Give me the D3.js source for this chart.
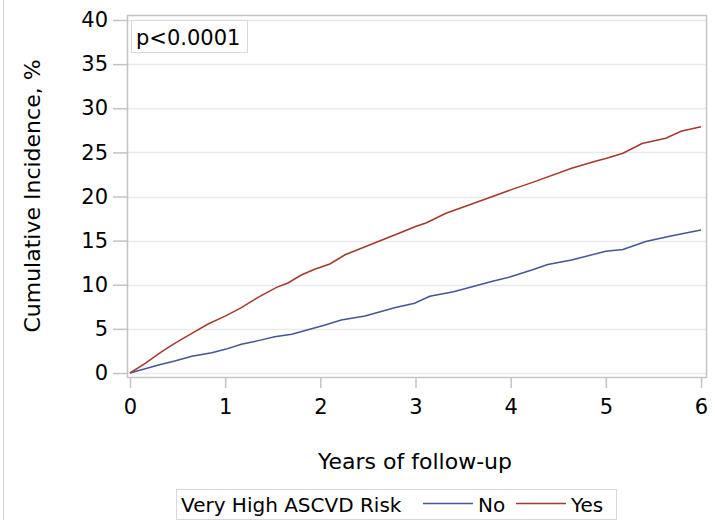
<!DOCTYPE html>
<html>
<head>
<meta charset="utf-8">
<script src="https://cdn.jsdelivr.net/npm/d3@7"></script>
<style>
  body { margin: 0; background: #fff; }
  svg { display: block; font-family: "DejaVu Sans", sans-serif; }
</style>
</head>
<body>
<svg id="chart" width="715" height="520"></svg>
<script>
// Cumulative incidence (%)
const yearsNo = [0, 0.30, 0.47, 0.65, 0.86, 1.0, 1.17, 1.35, 1.52, 1.70, 1.87, 2.05, 2.22, 2.47, 2.78, 2.99, 3.15, 3.4, 3.81, 4.0, 4.23, 4.39, 4.64, 5.0, 5.18, 5.42, 5.67, 6.0];
const valsNo = [0, 0.9, 1.36, 1.9, 2.3, 2.68, 3.25, 3.67, 4.1, 4.4, 4.9, 5.45, 6.0, 6.45, 7.4, 7.9, 8.7, 9.2, 10.4, 10.9, 11.7, 12.3, 12.8, 13.8, 14.0, 14.9, 15.5, 16.2];
const yearsYes = [0, 0.16, 0.33, 0.47, 0.65, 0.82, 1.0, 1.17, 1.35, 1.54, 1.66, 1.80, 1.94, 2.10, 2.26, 2.47, 2.82, 3.0, 3.11, 3.32, 3.81, 4.0, 4.23, 4.64, 4.89, 5.0, 5.18, 5.38, 5.63, 5.79, 6.0];
const valsYes = [0, 1.1, 2.4, 3.35, 4.5, 5.55, 6.45, 7.4, 8.6, 9.7, 10.2, 11.1, 11.75, 12.35, 13.4, 14.3, 15.8, 16.6, 17.0, 18.1, 20.0, 20.75, 21.6, 23.2, 24.0, 24.3, 24.9, 26.0, 26.6, 27.4, 27.9];
const xTicks = [0, 1, 2, 3, 4, 5, 6];
const yTicks = [0, 5, 10, 15, 20, 25, 30, 35, 40];
const groups = ["No", "Yes"];
const colors = {No: "#445694", Yes: "#A23A2E"};

const svg = d3.select("#chart");
const frame = {left: 127, right: 706, top: 15, bottom: 377};
const x = d3.scaleLinear().domain([0, 6]).range([130, 701]);
const y = d3.scaleLinear().domain([0, 40]).range([373, 20]);

// outer left border of the figure
svg.append("line")
    .attr("x1", 3.5).attr("x2", 3.5).attr("y1", 0).attr("y2", 520)
    .attr("stroke", "#d4d4d4").attr("stroke-width", 1);

// gridlines
svg.append("g").selectAll("line")
    .data(yTicks)
    .join("line")
    .attr("x1", frame.left).attr("x2", frame.right)
    .attr("y1", d => Math.round(y(d)) + 0.5).attr("y2", d => Math.round(y(d)) + 0.5)
    .attr("stroke", "#e9e9e9").attr("stroke-width", 1.5);

// frame
svg.append("rect")
    .attr("x", frame.left + 0.5).attr("y", frame.top + 0.5)
    .attr("width", frame.right - frame.left).attr("height", frame.bottom - frame.top)
    .attr("fill", "none").attr("stroke", "#c4c4c4").attr("stroke-width", 1.5);

// axes
const xAxis = d3.axisBottom(x).tickValues(xTicks).tickSize(11).tickPadding(11).tickFormat(d3.format("d"));
const yAxis = d3.axisLeft(y).tickValues(yTicks).tickSize(14).tickPadding(5).tickFormat(d3.format("d"));

const gx = svg.append("g").attr("transform", `translate(0,${frame.bottom})`).call(xAxis);
const gy = svg.append("g").attr("transform", `translate(${frame.left},0)`).call(yAxis);
for (const g of [gx, gy]) {
    g.select(".domain").remove();
    g.selectAll(".tick line").attr("stroke", "#c4c4c4").attr("stroke-width", 1.5);
    g.selectAll(".tick text").attr("fill", "#000").attr("font-size", "21px")
        .attr("font-family", "DejaVu Sans, sans-serif");
}

// axis titles
svg.append("text")
    .attr("x", 415).attr("y", 469)
    .attr("text-anchor", "middle").attr("font-size", "22px")
    .text("Years of follow-up");

svg.append("text")
    .attr("transform", "translate(40,196) rotate(-90)")
    .attr("text-anchor", "middle").attr("font-size", "22px")
    .text("Cumulative Incidence, %");

// curves
const line = d3.line().x(d => x(d[0])).y(d => y(d[1]));
const series = {
    No: d3.zip(yearsNo, valsNo),
    Yes: d3.zip(yearsYes, valsYes)
};
for (const gname of groups) {
    svg.append("path")
        .datum(series[gname])
        .attr("fill", "none")
        .attr("stroke", colors[gname])
        .attr("stroke-width", 1.5)
        .attr("d", line);
}

// p-value inset
svg.append("rect")
    .attr("x", 131.5).attr("y", 20.5).attr("width", 116).attr("height", 32)
    .attr("fill", "#fff").attr("stroke", "#d8d8d8");
svg.append("text")
    .attr("x", 136).attr("y", 45).attr("font-size", "21px")
    .text("p<0.0001");

// legend
const leg = svg.append("g");
leg.append("rect")
    .attr("x", 176.5).attr("y", 489.5).attr("width", 440).attr("height", 30)
    .attr("fill", "#fff").attr("stroke", "#d8d8d8");
leg.append("text").attr("x", 181).attr("y", 512).attr("font-size", "20px").text("Very High ASCVD Risk");
const legItems = [{g: "No", x0: 423}, {g: "Yes", x0: 516}];
for (const it of legItems) {
    leg.append("line")
        .attr("x1", it.x0).attr("x2", it.x0 + 50)
        .attr("y1", 503.5).attr("y2", 503.5)
        .attr("stroke", colors[it.g]).attr("stroke-width", 1.5);
    leg.append("text").attr("x", it.x0 + 55).attr("y", 512).attr("font-size", "20px").text(it.g);
}
</script>
</body>
</html>
